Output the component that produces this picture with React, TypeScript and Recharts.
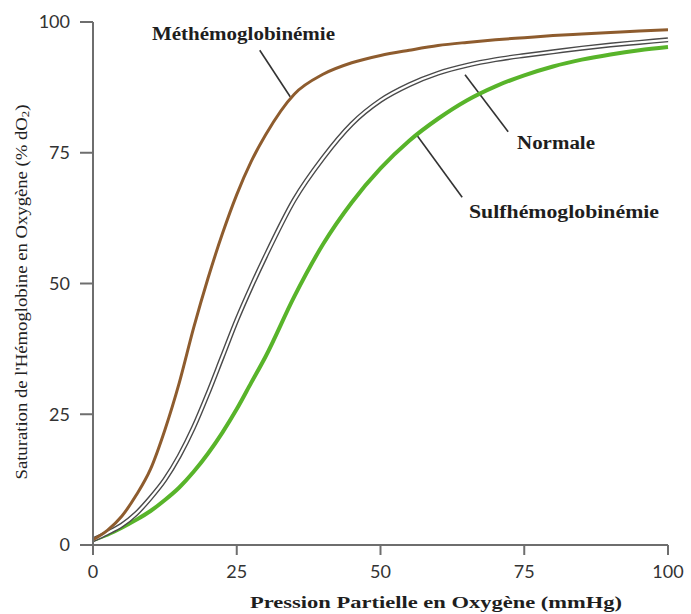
import React from 'react';
import { LineChart, Line, XAxis, YAxis, ReferenceLine, Label } from 'recharts';

// pression partielle O2 (mmHg)
const pressure = [0, 2.5, 5, 7.5, 10, 12.5, 15, 17.5, 20, 22.5, 25, 27.5, 30, 35, 40, 45, 50, 55, 60, 65, 70, 75, 80, 85, 90, 95, 100];
// saturation (%)
const methemo = [1, 2.8, 5.5, 9.5, 14.5, 22, 31, 41.5, 51, 59.5, 67, 73.3, 78.4, 86.2, 90, 92.2, 93.6, 94.6, 95.5, 96.1, 96.6, 97, 97.4, 97.7, 98, 98.3, 98.5];
const normale = [1, 2.3, 3.8, 6, 9, 12.5, 17, 22.5, 29, 36, 43, 49.3, 55.2, 66, 74, 80.5, 85, 88, 90.2, 91.7, 92.8, 93.6, 94.3, 95, 95.6, 96.1, 96.6];
const sulfhemo = [1, 2, 3.3, 4.8, 6.5, 8.6, 11, 14, 17.5, 21.5, 26, 31, 36, 47.5, 57.5, 65.5, 72, 77.3, 81.5, 85, 87.7, 89.8, 91.5, 92.8, 93.8, 94.6, 95.2];

const ticks = [0, 25, 50, 75, 100];

// leader lines from annotation to curve, in data units
const leaderMeth = [{ x: 29.0, y: 94.6 }, { x: 34.3, y: 85.7 }];
const leaderNorm = [{ x: 64.7, y: 89.9 }, { x: 72.2, y: 79.0 }];
const leaderSulf = [{ x: 56.3, y: 78.4 }, { x: 64.2, y: 66.5 }];

const data = pressure.map((p, i) => ({
  p,
  meth: methemo[i],
  norm: normale[i],
  sulf: sulfhemo[i],
}));

const serif = '"Liberation Serif", "Times New Roman", serif';
const tickStyle = { fill: '#333', fontSize: 18, fontFamily: 'Lato, sans-serif' };

const annStyle: React.CSSProperties = {
  fontFamily: serif,
  fontWeight: 'bold',
  fontSize: 18,
  fill: '#1e1e1e',
};

export default function App() {
  return (
    <div style={{ position: 'absolute', left: 0, top: 0, width: 691, height: 614, background: '#fff' }}>
      <LineChart width={691} height={614} data={data} margin={{ top: 22, right: 23, bottom: 0, left: 0 }}>
        <XAxis
          dataKey="p"
          type="number"
          domain={[0, 100]}
          ticks={ticks}
          height={69}
          tickSize={10}
          tickMargin={10}
          stroke="#6e6e6e"
          strokeWidth={2}
          tick={tickStyle}
        >
          <Label
            content={() => (
              <text
                x={436}
                y={608}
                textAnchor="middle"
                textLength={372}
                lengthAdjust="spacingAndGlyphs"
                style={{ fontFamily: serif, fontWeight: 'bold', fontSize: 17, fill: '#1e1e1e' }}
              >
                Pression Partielle en Oxygène (mmHg)
              </text>
            )}
          />
        </XAxis>
        <YAxis
          type="number"
          domain={[0, 100]}
          ticks={ticks}
          width={93}
          tickSize={13}
          tickMargin={10}
          stroke="#6e6e6e"
          strokeWidth={2}
          tick={tickStyle}
        >
          <Label
            content={() => (
              <text
                x={21}
                y={292}
                transform="rotate(-90 21 292)"
                textAnchor="middle"
                dominantBaseline="central"
                textLength={375}
                lengthAdjust="spacingAndGlyphs"
                style={{ fontFamily: serif, fontSize: 16, fill: '#222' }}
              >
                Saturation de l'Hémoglobine en Oxygène (% dO
                <tspan dy={4} fontSize={11}>2</tspan>
                <tspan dy={-4}>)</tspan>
              </text>
            )}
          />
        </YAxis>
        <ReferenceLine segment={leaderMeth} stroke="#333" strokeWidth={1.6} ifOverflow="visible" />
        <ReferenceLine segment={leaderNorm} stroke="#333" strokeWidth={1.6} ifOverflow="visible" />
        <ReferenceLine segment={leaderSulf} stroke="#333" strokeWidth={1.6} ifOverflow="visible" />
        <Line dataKey="sulf" type="monotone" stroke="#58b42a" strokeWidth={4} dot={false} isAnimationActive={false} />
        <Line dataKey="norm" type="monotone" stroke="#4a4a4a" strokeWidth={5} dot={false} isAnimationActive={false} />
        <Line dataKey="norm" type="monotone" stroke="#ffffff" strokeWidth={2.2} dot={false} isAnimationActive={false} />
        <Line dataKey="meth" type="monotone" stroke="#8e5c2e" strokeWidth={3} dot={false} isAnimationActive={false} />
      </LineChart>
      <svg width={691} height={614} style={{ position: 'absolute', left: 0, top: 0, pointerEvents: 'none' }}>
        <text x={152} y={40} textLength={183} lengthAdjust="spacingAndGlyphs" style={annStyle}>Méthémoglobinémie</text>
        <text x={517} y={149} textLength={78} lengthAdjust="spacingAndGlyphs" style={annStyle}>Normale</text>
        <text x={469} y={218} textLength={190} lengthAdjust="spacingAndGlyphs" style={annStyle}>Sulfhémoglobinémie</text>
      </svg>
    </div>
  );
}
